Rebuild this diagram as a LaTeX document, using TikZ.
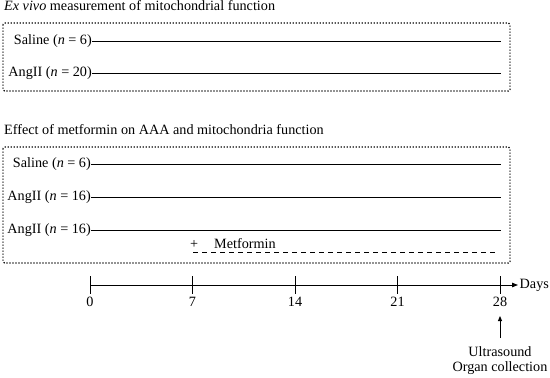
\documentclass[tikz,border=0pt]{standalone}
\usepackage{fontspec}
\setmainfont{Liberation Serif}
\usetikzlibrary{positioning,arrows.meta}

\tikzset{
	every node/.style={font=\fontsize{14.2}{15}\selectfont, inner sep=0pt},
	rowline/.style={line width=1pt},
	groupbox/.style={line width=1.2pt, dash pattern=on 1.2pt off 1.8pt, rounded corners=1.5pt},
	drugline/.style={line width=1pt, dash pattern=on 5pt off 4pt},
	axisline/.style={line width=1pt},
}

\begin{document}
\begin{tikzpicture}[x=1pt, y=-1pt]

	\useasboundingbox (0,0) rectangle (550,378);

	% ex vivo groups
	\node[anchor=base west] (T1) at (4,10) {\textit{Ex vivo} measurement of mitochondrial function};
	\draw[groupbox] (3,23) rectangle (510,91);

	\coordinate (A1) at (93,41);
	\coordinate (B1) at (501,41);
	\coordinate (A2) at (93,73);
	\coordinate (B2) at (501,73);

	\node[left=1pt of A1] (L1) {Saline (\textit{n} = 6)};
	\node[left=1pt of A2] (L2) {AngII (\textit{n} = 20)};

	\draw[rowline] (L1.east) -- (B1);
	\draw[rowline] (L2.east) -- (B2);

	% metformin groups
	\node[anchor=base west] (T2) at (4,134) {Effect of metformin on AAA and mitochondria function};
	\draw[groupbox] (3,147) rectangle (510,263);

	\coordinate (A3) at (92,164);
	\coordinate (B3) at (501,164);
	\coordinate (A4) at (92,197);
	\coordinate (B4) at (501,197);
	\coordinate (A5) at (92,230);
	\coordinate (B5) at (501,230);

	\node[left=1pt of A3] (L3) {Saline (\textit{n} = 6)};
	\node[left=1pt of A4] (L4) {AngII (\textit{n} = 16)};
	\node[left=1pt of A5] (L5) {AngII (\textit{n} = 16)};

	\draw[rowline] (L3.east) -- (B3);
	\draw[rowline] (L4.east) -- (B4);
	\draw[rowline] (L5.east) -- (B5);

	\coordinate (M1) at (193,252);
	\coordinate (M2) at (498,252);
	\node[anchor=base west] (MET) at (190,248) {+\hspace{16pt}Metformin};
	\draw[drugline] (M1) -- (M2);

	% time line
	\coordinate (D0) at (90,285);
	\coordinate (D7) at (192.5,285);
	\coordinate (D14) at (295,285);
	\coordinate (D21) at (397.5,285);
	\coordinate (D28) at (500,285);
	\coordinate (DE) at (518,285);

	\draw[axisline, -{Triangle[length=6pt, width=4.5pt]}] (D0) -- (DE);
	\node[right=1.5pt of DE] (DAYS) {Days};

	\draw[axisline] ([yshift=9pt]D0) -- ([yshift=-9pt]D0);
	\draw[axisline] ([yshift=9pt]D7) -- ([yshift=-9pt]D7);
	\draw[axisline] ([yshift=9pt]D14) -- ([yshift=-9pt]D14);
	\draw[axisline] ([yshift=9pt]D21) -- ([yshift=-9pt]D21);
	\draw[axisline] ([yshift=9pt]D28) -- ([yshift=-9pt]D28);

	\node[below=12pt of D0] {0};
	\node[below=12pt of D7] {7};
	\node[below=12pt of D14] {14};
	\node[below=12pt of D21] {21};
	\node[below=12pt of D28] {28};

	% end point
	\coordinate (U1) at (500,316);
	\node[align=center, anchor=north] (COLL) at (500,346) {Ultrasound\\Organ collection};
	\draw[axisline, -{Triangle[length=5pt, width=4pt]}, shorten <=8pt] (COLL) -- (U1);

\end{tikzpicture}
\end{document}
